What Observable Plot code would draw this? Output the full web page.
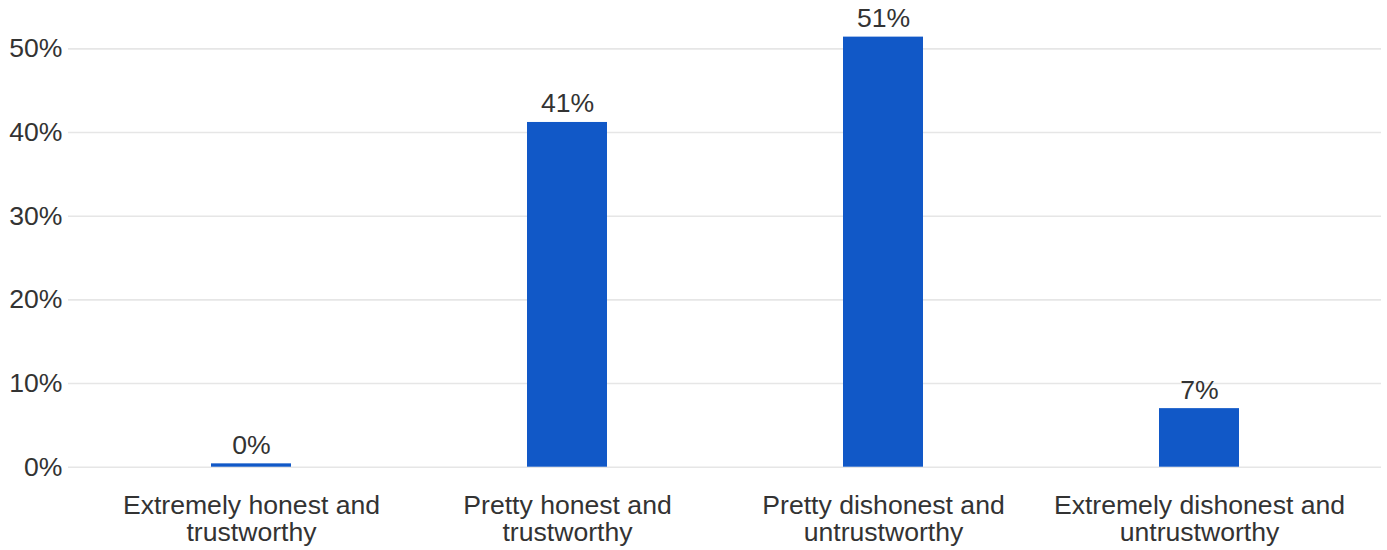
<!DOCTYPE html>
<html>
<head>
<meta charset="utf-8">
<script src="https://cdn.jsdelivr.net/npm/d3@7"></script>
<script src="https://cdn.jsdelivr.net/npm/@observablehq/plot@0.6"></script>
<style>
  html, body { margin: 0; padding: 0; background: #fff; }
  #chart svg { display: block; }
</style>
</head>
<body>
<div id="chart"></div>
<script>
const categories = [
  "Extremely honest and trustworthy",
  "Pretty honest and trustworthy",
  "Pretty dishonest and untrustworthy",
  "Extremely dishonest and untrustworthy"
];
const tickLabels = [
  "Extremely honest and\ntrustworthy",
  "Pretty honest and\ntrustworthy",
  "Pretty dishonest and\nuntrustworthy",
  "Extremely dishonest and\nuntrustworthy"
];
const values = [0.4, 41.2, 51.4, 7.0];
const valueLabels = ["0%", "41%", "51%", "7%"];
const yTicks = [0, 10, 20, 30, 40, 50];

const data = categories.map((c, i) => ({category: c, value: values[i], label: valueLabels[i]}));
const labelOf = new Map(categories.map((c, i) => [c, tickLabels[i]]));
const FS = 26.6;

const chart = Plot.plot({
  width: 1387,
  height: 550,
  marginLeft: 68,
  marginRight: 6,
  marginTop: 6.5,
  marginBottom: 83.3,
  style: {fontFamily: "'Liberation Sans', Arial, sans-serif", fontSize: FS + "px", color: "#333", background: "#fff"},
  x: {domain: categories, paddingInner: 0.747, paddingOuter: 0.45, label: null},
  y: {domain: [0, 55], label: null},
  marks: [
    Plot.ruleY(yTicks, {stroke: "#e6e6e6", strokeWidth: 1.6}),
    Plot.barY(data, {x: "category", y: "value", fill: "#1158c7"}),
    Plot.text(data, {x: "category", y: "value", text: "label", lineAnchor: "bottom", dy: -10, fill: "#333", fontSize: FS}),
    Plot.axisY({ticks: yTicks, tickFormat: d => d + "%", tickSize: 0, tickPadding: 6, fontSize: FS, fill: "#333"}),
    Plot.axisX({tickSize: 0, tickPadding: 27, tickFormat: d => labelOf.get(d), lineHeight: 1.04, fontSize: FS, fill: "#333"})
  ]
});
document.getElementById("chart").appendChild(chart);
</script>
</body>
</html>
